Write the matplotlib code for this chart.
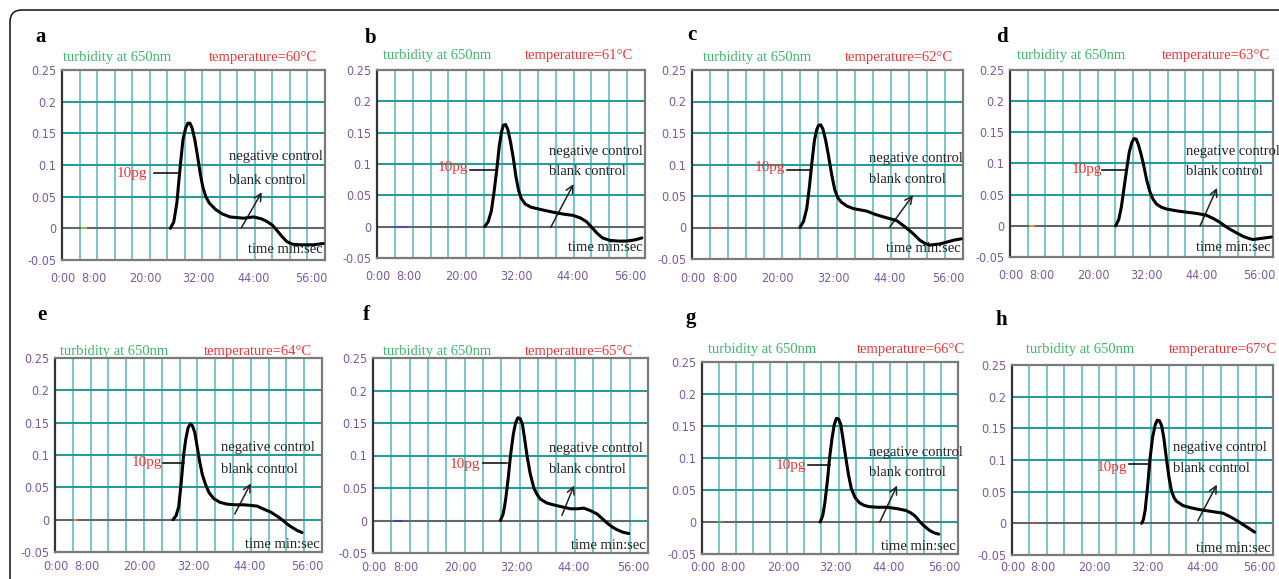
import matplotlib
matplotlib.use("Agg")
import matplotlib.pyplot as plt
from matplotlib.patches import FancyBboxPatch
from matplotlib.transforms import IdentityTransform

W, H = 1279, 579

letters = ["a", "b", "c", "d", "e", "f", "g", "h"]
temps = [60, 61, 62, 63, 64, 65, 66, 67]

xtick_labels = ["0:00", "8:00", "20:00", "32:00", "44:00", "56:00"]
xtick_pos = [0.3, 7.2, 19.0, 31.2, 43.8, 56.8]
ytick_vals = [-0.05, 0, 0.05, 0.1, 0.15, 0.2, 0.25]
ytick_labels = ["-0.05", "0", "0.05", "0.1", "0.15", "0.2", "0.25"]

# 10pg turbidity curves: time (axis minutes) and turbidity
t_a = [24.7, 25.5, 26.2, 27.0, 27.6, 28.2, 28.7, 29.2, 29.7, 30.3, 30.9, 31.5, 32.1, 32.8, 33.6, 35.0,
       36.5, 38.3, 41.4, 43.7, 45.5, 46.7, 48.0, 49.0, 50.2, 51.3, 52.5, 54.3, 57.3, 59.6]
y_a = [0, 0.01, 0.04, 0.1, 0.14, 0.158, 0.166, 0.166, 0.158, 0.14, 0.115, 0.088, 0.066, 0.05, 0.04, 0.03,
       0.023, 0.018, 0.016, 0.018, 0.015, 0.011, 0.005, -0.003, -0.013, -0.021, -0.025, -0.026, -0.026, -0.024]
t_b = [24.1, 24.9, 25.6, 26.2, 26.8, 27.4, 27.9, 28.3, 28.8, 29.3, 29.9, 30.5, 31.1, 31.7, 32.3, 33.2,
       34.5, 35.7, 37.5, 39.5, 41.8, 43.9, 45.5, 46.9, 48.2, 49.2, 50.5, 52.2, 54.0, 55.9, 57.8, 59.3]
y_b = [0, 0.008, 0.025, 0.055, 0.09, 0.13, 0.152, 0.162, 0.163, 0.155, 0.135, 0.11, 0.08, 0.058, 0.045, 0.036,
       0.031, 0.029, 0.026, 0.023, 0.02, 0.018, 0.014, 0.008, -0.002, -0.01, -0.018, -0.022, -0.023, -0.023,
       -0.021, -0.018]
t_c = [23.9, 24.7, 25.4, 26.0, 26.5, 27.1, 27.6, 28.0, 28.5, 29.0, 29.6, 30.2, 30.9, 31.6, 32.3, 33.1,
       34.3, 35.7, 37.2, 38.7, 40.5, 42.3, 43.8, 45.3, 46.8, 48.2, 49.3, 50.4, 51.5, 52.6, 53.8, 54.9,
       56.5, 58.0, 59.6]
y_c = [0, 0.01, 0.03, 0.065, 0.1, 0.138, 0.155, 0.162, 0.163, 0.156, 0.138, 0.115, 0.085, 0.06, 0.047, 0.04,
       0.034, 0.03, 0.028, 0.026, 0.021, 0.017, 0.014, 0.011, 0.003, -0.005, -0.012, -0.02, -0.025, -0.028,
       -0.027, -0.026, -0.023, -0.02, -0.018]
t_d = [24.1, 24.8, 25.4, 26.0, 26.6, 27.2, 27.8, 28.3, 28.8, 29.3, 29.9, 30.5, 31.2, 31.9, 32.6, 33.4,
       34.5, 35.7, 38.0, 40.2, 42.5, 44.8, 46.3, 47.8, 49.0, 50.1, 51.6, 53.2, 54.4, 55.4, 57.5, 59.6]
y_d = [0, 0.01, 0.03, 0.06, 0.09, 0.118, 0.134, 0.14, 0.139, 0.13, 0.115, 0.097, 0.073, 0.055, 0.043, 0.035,
       0.03, 0.027, 0.024, 0.022, 0.02, 0.017, 0.012, 0.006, 0.0, -0.005, -0.011, -0.017, -0.02, -0.022,
       -0.02, -0.018]
t_e = [26.5, 27.2, 27.8, 28.4, 28.9, 29.4, 29.9, 30.4, 30.9, 31.4, 31.9, 32.5, 33.1, 33.8, 34.6, 35.6,
       37.0, 38.6, 40.5, 42.4, 44.0, 45.4, 47.0, 48.4, 50.0, 51.4, 52.4, 53.3, 54.5, 55.5]
y_e = [0, 0.006, 0.02, 0.06, 0.1, 0.125, 0.142, 0.148, 0.145, 0.135, 0.115, 0.09, 0.07, 0.055, 0.042, 0.033,
       0.027, 0.024, 0.023, 0.023, 0.022, 0.021, 0.016, 0.012, 0.005, -0.002, -0.008, -0.012, -0.017, -0.02]
t_f = [27.8, 28.4, 28.9, 29.5, 30.0, 30.6, 31.1, 31.6, 32.1, 32.6, 33.1, 33.6, 34.3, 35.1, 35.8, 36.5,
       37.9, 39.4, 41.2, 43.1, 44.6, 46.0, 47.5, 48.9, 50.0, 51.1, 52.2, 53.2, 54.5, 55.8]
y_f = [0, 0.01, 0.03, 0.065, 0.1, 0.132, 0.15, 0.158, 0.157, 0.148, 0.125, 0.1, 0.072, 0.05, 0.04, 0.033,
       0.027, 0.024, 0.021, 0.018, 0.018, 0.019, 0.015, 0.01, 0.003, -0.004, -0.01, -0.014, -0.018, -0.02]
t_g = [27.7, 28.3, 28.8, 29.4, 29.9, 30.5, 31.0, 31.5, 32.0, 32.5, 33.0, 33.6, 34.3, 35.0, 35.9, 36.9,
       38.0, 39.1, 41.2, 43.4, 45.6, 47.8, 49.0, 50.0, 51.1, 52.2, 53.3, 54.4, 55.5]
y_g = [0, 0.01, 0.03, 0.065, 0.1, 0.132, 0.152, 0.162, 0.161, 0.153, 0.132, 0.105, 0.075, 0.052, 0.038, 0.03,
       0.026, 0.024, 0.023, 0.023, 0.021, 0.018, 0.014, 0.009, 0.0, -0.007, -0.013, -0.017, -0.019]
t_h = [29.8, 30.2, 30.6, 31.2, 31.7, 32.3, 32.9, 33.4, 33.9, 34.4, 34.9, 35.5, 36.1, 36.7, 37.3, 37.8,
       39.3, 40.9, 42.8, 44.7, 46.6, 48.5, 49.7, 50.8, 52.0, 53.1, 54.5, 55.8]
y_h = [0, 0.006, 0.02, 0.06, 0.1, 0.135, 0.155, 0.163, 0.162, 0.154, 0.135, 0.102, 0.072, 0.05, 0.04, 0.035,
       0.028, 0.025, 0.022, 0.02, 0.018, 0.016, 0.012, 0.008, 0.003, -0.002, -0.008, -0.014]
curve_t = [t_a, t_b, t_c, t_d, t_e, t_f, t_g, t_h]
curve_y = [y_a, y_b, y_c, y_d, y_e, y_f, y_g, y_h]

# negative / blank control baseline end (minutes)
base_end = [60, 60, 60, 60, 55.5, 56.1, 55.5, 55.8]

# small coloured traces near the start
trace_x0 = [4.5, 4.0, 5.0, 4.5, 4.3, 4.9, 3.8, 4.8]
trace_x1 = [5.5, 6.8, 6.5, 5.5, 5.0, 6.3, 4.6, 5.4]
trace_col = ["#9acd32", "#4a4ad0", "#d04040", "#e0a030", "#e08040", "#3a3ad8", "#40b040", "#e04040"]

# 10pg label: text right edge x, text y, leader x0, x1, leader y
pg_x = [19.4, 20.4, 20.6, 20.9, 24.0, 23.3, 24.5, 26.4]
pg_y = [0.087, 0.095, 0.095, 0.09, 0.088, 0.086, 0.089, 0.088]
lead_x0 = [20.9, 20.8, 21.0, 20.9, 24.2, 24.1, 24.8, 26.8]
lead_x1 = [26.6, 26.4, 26.3, 26.6, 29.0, 29.2, 29.9, 31.7]
lead_y = [0.087, 0.09, 0.092, 0.09, 0.088, 0.088, 0.089, 0.093]

# control annotation
ann_x = [38.0, 38.6, 39.2, 40.1, 37.3, 38.5, 39.2, 37.1]
neg_y = [0.113, 0.12, 0.11, 0.119, 0.111, 0.111, 0.108, 0.12]
blank_y = [0.076, 0.088, 0.076, 0.087, 0.078, 0.078, 0.077, 0.086]
arr_x0 = [40.6, 38.6, 43.4, 43.1, 40.1, 41.0, 41.4, 42.4]
arr_y0 = [-0.003, -0.005, -0.003, -0.004, 0.005, 0.004, -0.004, 0.0]
arr_x1 = [45.9, 44.3, 49.3, 47.5, 44.3, 44.1, 46.0, 47.4]
arr_y1 = [0.061, 0.072, 0.055, 0.065, 0.06, 0.058, 0.061, 0.065]
time_y = [-0.034, -0.034, -0.034, -0.034, -0.039, -0.039, -0.039, -0.039]

# layout (pixels): axes left, top, right, bottom
ax_box = [(62, 70, 325, 260), (377, 70, 645, 258), (692, 70, 963, 259), (1010, 70, 1273, 257),
          (55, 358, 322, 552), (373, 358, 648, 553), (702, 362, 958, 554), (1012, 365, 1273, 555)]
xpad = [9, 9, 9, 9, 6, 6, 5, 4]
letter_xy = [(35, 37), (365, 38), (687, 35), (996, 37), (37, 315), (363, 315), (685, 318), (995, 320)]
green_xy = [(63, 57), (383, 55), (703, 57), (1017, 55), (60, 352), (383, 352), (708, 350), (1026, 350)]
red_xy = [(317, 57), (633, 56), (953, 57), (1270, 55), (312, 352), (633, 352), (965, 350), (1277, 350)]

SERIF = ["Liberation Serif", "DejaVu Serif"]
SANS = ["DejaVu Sans"]
PURPLE = "#7a5aa6"
GREEN = "#3cb86a"
RED = "#f03535"
INK = "#222222"

fig = plt.figure(figsize=(W / 100, H / 100), dpi=100)

border = FancyBboxPatch((10, -40), 1340, 579 - 10 + 40, boxstyle="round,pad=0,rounding_size=12",
                        transform=IdentityTransform(), fill=False, ec=INK, lw=1.2)
fig.patches.append(border)

for i in range(8):
    l, t, r, b = ax_box[i]
    ax = fig.add_axes([l / W, 1 - b / H, (r - l) / W, (b - t) / H])
    ax.set_xlim(0, 60)
    ax.set_ylim(-0.05, 0.25)
    for gx in range(4, 60, 4):
        ax.axvline(gx, color="#5cc0c0", lw=1.2, zorder=1)
    for gy in ytick_vals[1:-1]:
        ax.axhline(gy, color="#2a9a98", lw=1.5, zorder=1)
    ax.plot([0, base_end[i]], [0, 0], color="#666666", lw=1.4, zorder=2)
    ax.plot([trace_x0[i], trace_x1[i]], [0, 0], color=trace_col[i], lw=1.3, zorder=3)
    ax.plot(curve_t[i], curve_y[i], color="black", lw=2.2, solid_joinstyle="round",
            solid_capstyle="round", zorder=4)

    ax.plot([lead_x0[i], lead_x1[i]], [lead_y[i], lead_y[i]], color="black", lw=1.1, zorder=4)
    ax.text(pg_x[i], pg_y[i], "10pg", color=RED, fontsize=11, family=SERIF, ha="right", va="center")
    ax.text(ann_x[i], neg_y[i], "negative control", fontsize=10.5, family=SERIF, ha="left",
            va="center", color=INK, clip_on=False)
    ax.text(ann_x[i], blank_y[i], "blank control", fontsize=10.5, family=SERIF, ha="left",
            va="center", color=INK, clip_on=False)
    ax.annotate("", xy=(arr_x1[i], arr_y1[i]), xytext=(arr_x0[i], arr_y0[i]),
                arrowprops=dict(arrowstyle="->", color=INK, lw=1.1, mutation_scale=13))
    ax.text(59.5, time_y[i], "time min:sec", fontsize=10.5, family=SERIF, ha="right", va="center",
            color=INK)

    ax.set_xticks(xtick_pos)
    ax.set_xticklabels(xtick_labels)
    ax.set_yticks(ytick_vals)
    ax.set_yticklabels(ytick_labels)
    ax.tick_params(length=0, labelcolor=PURPLE, labelsize=9)
    ax.tick_params(axis="x", pad=xpad[i])
    ax.tick_params(axis="y", pad=4)
    for lab in ax.get_xticklabels() + ax.get_yticklabels():
        lab.set_family(SANS)
        lab.set_stretch("condensed")
    for s in ax.spines.values():
        s.set_color("#7a7a7a")
        s.set_linewidth(1.6)
    ax.spines["left"].set_color("#333333")

    lx, ly = letter_xy[i]
    fig.text(lx / W, 1 - ly / H, letters[i], fontsize=15, fontweight="bold", family=SERIF,
             ha="left", va="center")
    gx_, gy_ = green_xy[i]
    fig.text(gx_ / W, 1 - gy_ / H, "turbidity at 650nm", color=GREEN, fontsize=10.5, family=SERIF,
             ha="left", va="center")
    rx, ry = red_xy[i]
    fig.text(rx / W, 1 - ry / H, f"temperature={temps[i]}°C", color=RED, fontsize=10.5,
             family=SERIF, ha="right", va="center")

fig.savefig("out.png", dpi=100)
